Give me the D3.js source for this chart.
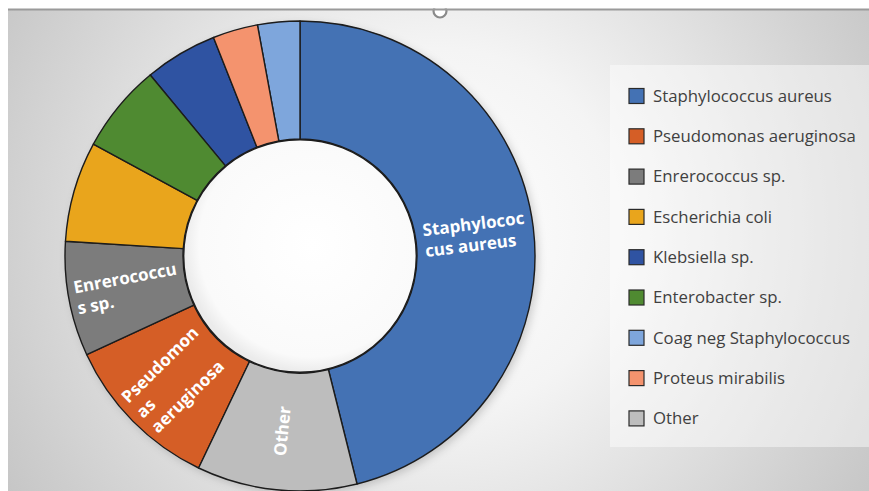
<!DOCTYPE html>
<html><head><meta charset="utf-8">
<script src="https://cdn.jsdelivr.net/npm/d3@7"></script>
<style>html,body{margin:0;padding:0;background:#fff;}svg{display:block;}</style>
</head><body>
<svg id="chart" width="869" height="491"></svg>
<script>
// Legend order
const categories = ["Staphylococcus aureus","Pseudomonas aeruginosa","Enrerococcus sp.","Escherichia coli","Klebsiella sp.","Enterobacter sp.","Coag neg Staphylococcus","Proteus mirabilis","Other"];
const values = [46.1, 11.0, 7.9, 6.9, 5.0, 6.1, 2.9, 3.1, 11.0];
const colors = ["#4472B4","#D55E26","#7C7C7C","#E9A51C","#2F53A2","#4F8A31","#7EA6DC","#F4936E","#BDBDBD"];
// Clockwise drawing order from 12 o'clock
const drawOrder = ["Staphylococcus aureus","Other","Pseudomonas aeruginosa","Enrerococcus sp.","Escherichia coli","Enterobacter sp.","Klebsiella sp.","Proteus mirabilis","Coag neg Staphylococcus"];
// Data-label text (wrapped as in the reference)
const labelLines = {
  "Staphylococcus aureus": ["Staphylococ","cus aureus"],
  "Enrerococcus sp.": ["Enrerococcu","s sp."],
  "Pseudomonas aeruginosa": ["Pseudomon","as","aeruginosa"],
  "Other": ["Other"]
};

const svg = d3.select("#chart");
const W = 869, H = 491;
const defs = svg.append("defs");

const bg = defs.append("radialGradient").attr("id","bg").attr("gradientUnits","userSpaceOnUse")
  .attr("cx",440).attr("cy",230).attr("r",520);
bg.append("stop").attr("offset","0").attr("stop-color","#ffffff");
bg.append("stop").attr("offset","0.35").attr("stop-color","#f4f4f4");
bg.append("stop").attr("offset","0.75").attr("stop-color","#d6d6d6");
bg.append("stop").attr("offset","1").attr("stop-color","#c4c4c4");

const hole = defs.append("radialGradient").attr("id","hole").attr("cx","0.55").attr("cy","0.45").attr("r","0.55");
hole.append("stop").attr("offset","0").attr("stop-color","#ffffff");
hole.append("stop").attr("offset","0.88").attr("stop-color","#fafafa");
hole.append("stop").attr("offset","1").attr("stop-color","#ebebeb");

const sh = defs.append("filter").attr("id","shadow").attr("x","-20%").attr("y","-20%").attr("width","140%").attr("height","140%");
sh.append("feDropShadow").attr("dx",3).attr("dy",3).attr("stdDeviation",4).attr("flood-color","#000").attr("flood-opacity",0.18);

// background
svg.append("rect").attr("x",8).attr("y",10).attr("width",W-8).attr("height",H-10).attr("fill","url(#bg)");

// legend panel
svg.append("rect").attr("x",610).attr("y",65).attr("width",W-610).attr("height",382)
  .attr("fill","#ffffff").attr("fill-opacity",0.45);

const cx = 300, cy = 256, R = 235, r0 = 117;
const color = d3.scaleOrdinal().domain(categories).range(colors);
const data = categories.map((c,i)=>({name:c, value:values[i]}));

const pie = d3.pie().value(d=>d.value)
  .sort((a,b)=>drawOrder.indexOf(a.name)-drawOrder.indexOf(b.name));
const arcs = pie(data);
const arc = d3.arc().innerRadius(r0).outerRadius(R);

const g = svg.append("g").attr("transform",`translate(${cx},${cy})`);
g.append("circle").attr("r",R).attr("fill","#888").attr("filter","url(#shadow)");
g.selectAll("path.slice").data(arcs).join("path").attr("class","slice")
  .attr("d",arc).attr("fill",d=>color(d.data.name))
  .attr("stroke","#1c1c1c").attr("stroke-width",1.4).attr("stroke-linejoin","round");
g.append("circle").attr("r",r0-0.7).attr("fill","url(#hole)").attr("stroke","#1c1c1c").attr("stroke-width",1.4);

// data labels
const labArc = d3.arc().innerRadius((R+r0)/2).outerRadius((R+r0)/2);
const labels = g.selectAll("g.lab").data(arcs.filter(d=>labelLines[d.data.name])).join("g").attr("class","lab")
  .attr("transform",d=>{
    const [x,y] = labArc.centroid(d);
    const a = (d.startAngle+d.endAngle)/2*180/Math.PI;
    const rot = a < 180 ? a-90 : a-270;
    return `translate(${x},${y}) rotate(${rot})`;
  });
const lh = 21;
labels.each(function(d){
  const lines = labelLines[d.data.name];
  const t = d3.select(this).append("text")
    .attr("font-family","'Open Sans', sans-serif").attr("font-weight",700).attr("font-size",17)
    .attr("fill","#ffffff");
  lines.forEach((ln,i)=>{
    t.append("tspan").attr("x",0).attr("y",(i-(lines.length-1)/2)*lh).attr("dy","0.35em").text(ln);
  });
  let w = 0;
  t.selectAll("tspan").each(function(){ w = Math.max(w,this.getComputedTextLength()); });
  t.selectAll("tspan").attr("x",-w/2);
});

// legend
const leg = svg.append("g").attr("transform","translate(629,96)");
const items = leg.selectAll("g").data(categories).join("g").attr("transform",(d,i)=>`translate(0,${i*40.3})`);
items.append("rect").attr("x",0).attr("y",-7.5).attr("width",15).attr("height",15)
  .attr("fill",d=>color(d)).attr("stroke","#2a2a2a").attr("stroke-width",1.2);
items.append("text").attr("x",24).attr("y",0).attr("dy","0.35em")
  .attr("font-family","'Open Sans', sans-serif").attr("font-size",16.8).attr("fill","#404040").text(d=>d);

// top border + selection handle
svg.append("circle").attr("cx",440).attr("cy",11).attr("r",6.5).attr("fill","#fff").attr("stroke","#8a8a8a").attr("stroke-width",2.2);
svg.append("rect").attr("x",0).attr("y",0).attr("width",W).attr("height",8.5).attr("fill","#fff");
svg.append("line").attr("x1",8).attr("x2",W).attr("y1",9.5).attr("y2",9.5).attr("stroke","#9a9a9a").attr("stroke-width",2);
</script>
</body></html>
